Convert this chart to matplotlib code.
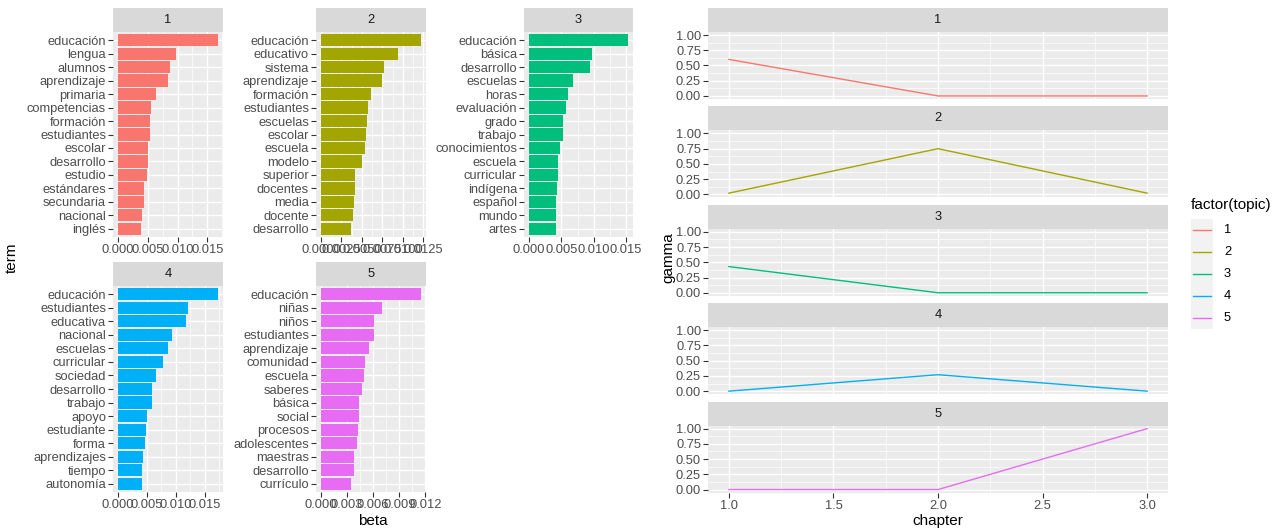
import matplotlib
matplotlib.use("Agg")
import matplotlib.pyplot as plt
from matplotlib.patches import Rectangle
from matplotlib.lines import Line2D
from matplotlib.ticker import FixedLocator

plt.rcParams['font.family'] = ['Liberation Sans', 'DejaVu Sans']

# ---- topic-term probabilities (beta) ----
topics = ["1", "2", "3", "4", "5"]
topic_colors = ["#F8766D", "#A3A500", "#00BF7D", "#00B0F6", "#E76BF3"]

terms1 = ["educación", "lengua", "alumnos", "aprendizaje", "primaria", "competencias",
          "formación", "estudiantes", "escolar", "desarrollo", "estudio", "estándares",
          "secundaria", "nacional", "inglés"]
beta1 = [0.0168, 0.0097, 0.0087, 0.0084, 0.0064, 0.0056, 0.0054, 0.0053, 0.0051,
         0.0051, 0.0048, 0.0044, 0.0044, 0.0041, 0.0039]

terms2 = ["educación", "educativo", "sistema", "aprendizaje", "formación", "estudiantes",
          "escuelas", "escolar", "escuela", "modelo", "superior", "docentes", "media",
          "docente", "desarrollo"]
beta2 = [0.0122, 0.0094, 0.0077, 0.0075, 0.0061, 0.0057, 0.0056, 0.0055, 0.0054,
         0.0050, 0.0041, 0.0041, 0.0040, 0.0039, 0.0036]

terms3 = ["educación", "básica", "desarrollo", "escuelas", "horas", "evaluación", "grado",
          "trabajo", "conocimientos", "escuela", "curricular", "indígena", "español",
          "mundo", "artes"]
beta3 = [0.0153, 0.0097, 0.0095, 0.0068, 0.0060, 0.0057, 0.0052, 0.0052, 0.0048,
         0.0045, 0.0045, 0.0043, 0.0042, 0.0042, 0.0042]

terms4 = ["educación", "estudiantes", "educativa", "nacional", "escuelas", "curricular",
          "sociedad", "desarrollo", "trabajo", "apoyo", "estudiante", "forma",
          "aprendizajes", "tiempo", "autonomía"]
beta4 = [0.0173, 0.0121, 0.0118, 0.0093, 0.0086, 0.0078, 0.0066, 0.0059, 0.0058,
         0.0051, 0.0049, 0.0047, 0.0044, 0.0042, 0.0042]

terms5 = ["educación", "niñas", "niños", "estudiantes", "aprendizaje", "comunidad",
          "escuela", "saberes", "básica", "social", "procesos", "adolescentes",
          "maestras", "desarrollo", "currículo"]
beta5 = [0.0115, 0.0070, 0.0061, 0.0061, 0.0055, 0.0051, 0.0049, 0.0047, 0.0044,
         0.0044, 0.0042, 0.0041, 0.0038, 0.0038, 0.0035]

beta_ticks1 = [0.000, 0.005, 0.010, 0.015]
beta_ticks2 = [0.0000, 0.0025, 0.0050, 0.0075, 0.0100, 0.0125]
beta_ticks3 = [0.000, 0.005, 0.010, 0.015]
beta_ticks4 = [0.000, 0.005, 0.010, 0.015]
beta_ticks5 = [0.000, 0.003, 0.006, 0.009, 0.012]

# ---- document-topic probabilities (gamma) ----
chapters = [1, 2, 3]
gamma1 = [0.60, 0.00, 0.00]
gamma2 = [0.02, 0.75, 0.02]
gamma3 = [0.43, 0.00, 0.00]
gamma4 = [0.00, 0.27, 0.00]
gamma5 = [0.00, 0.00, 1.00]

# ---- figure & ggplot-like styling ----
W, H, DPI = 1277, 529, 100
fig = plt.figure(figsize=(W / DPI, H / DPI), dpi=DPI)
fig.patch.set_facecolor("white")

PANEL_BG = "#EBEBEB"
STRIP_BG = "#D9D9D9"
TICK_TXT = "#4D4D4D"
TICK_CLR = "#333333"
FS = 9.3
TITLE_FS = 11


def px_axes(x0, y0, x1, y1):
    return fig.add_axes([x0 / W, 1 - y1 / H, (x1 - x0) / W, (y1 - y0) / H])


def strip(x0, y0, x1, y1, label):
    ax = px_axes(x0, y0, x1, y1)
    ax.set_facecolor(STRIP_BG)
    ax.set_xticks([])
    ax.set_yticks([])
    for s in ax.spines.values():
        s.set_visible(False)
    ax.text(0.5, 0.5, label, ha="center", va="center", fontsize=FS,
            color="#1A1A1A", transform=ax.transAxes)


def style_panel(ax):
    ax.set_facecolor(PANEL_BG)
    for s in ax.spines.values():
        s.set_visible(False)
    ax.set_axisbelow(True)
    ax.tick_params(axis="both", which="major", length=3.5, width=0.8,
                   color=TICK_CLR, labelcolor=TICK_TXT, labelsize=FS, pad=1.5)
    ax.tick_params(axis="both", which="minor", length=0)
    ax.grid(which="major", color="white", linewidth=1.0)
    ax.grid(which="minor", color="white", linewidth=0.5)


# ---- left: top terms per topic ----
bar_sets = [(terms1, beta1, beta_ticks1), (terms2, beta2, beta_ticks2),
            (terms3, beta3, beta_ticks3), (terms4, beta4, beta_ticks4),
            (terms5, beta5, beta_ticks5)]
col_x = [(113, 223), (316, 426), (524, 633)]
row_y = [(8, 32, 237), (262, 286, 492)]

for i, (terms, betas, ticks) in enumerate(bar_sets):
    r, c = divmod(i, 3)
    x0, x1 = col_x[c]
    sy0, sy1, py1 = row_y[r]
    strip(x0, sy0, x1, sy1, topics[i])
    ax = px_axes(x0, sy1, x1, py1)
    style_panel(ax)
    n = len(terms)
    ypos = list(range(n - 1, -1, -1))
    ax.barh(ypos, betas, height=0.9, color=topic_colors[i], zorder=2)
    ax.set_yticks(ypos)
    ax.set_yticklabels(terms)
    ax.set_ylim(-0.6, n - 0.4)
    mx = max(betas)
    ax.set_xlim(-0.05 * mx, 1.05 * mx)
    ax.xaxis.set_major_locator(FixedLocator(ticks))
    step = ticks[1] - ticks[0]
    minors = [t + step / 2 for t in ticks] + [ticks[0] - step / 2]
    ax.xaxis.set_minor_locator(FixedLocator(minors))
    ax.set_xticklabels([f"{t:.{len(str(step)) - 2}f}" for t in ticks])

fig.text(12 / W, 1 - 258 / H, "term", rotation=90, ha="center", va="center",
         fontsize=TITLE_FS, color="black")
fig.text(373 / W, 1 - 521 / H, "beta", ha="center", va="center",
         fontsize=TITLE_FS, color="black")

# ---- right: topic share per chapter ----
gammas = [gamma1, gamma2, gamma3, gamma4, gamma5]
rx0, rx1 = 708, 1168
pitch = 98.4
for i, g in enumerate(gammas):
    top = 8 + i * pitch
    strip(rx0, top, rx1, top + 24, topics[i])
    ax = px_axes(rx0, top + 24, rx1, top + 24 + 67)
    style_panel(ax)
    ax.plot(chapters, g, color=topic_colors[i], linewidth=1.0, zorder=3)
    ax.set_xlim(0.9, 3.1)
    ax.set_ylim(-0.05, 1.05)
    ax.xaxis.set_major_locator(FixedLocator([1.0, 1.5, 2.0, 2.5, 3.0]))
    ax.xaxis.set_minor_locator(FixedLocator([1.25, 1.75, 2.25, 2.75]))
    ax.yaxis.set_major_locator(FixedLocator([0, 0.25, 0.5, 0.75, 1.0]))
    ax.yaxis.set_minor_locator(FixedLocator([0.125, 0.375, 0.625, 0.875]))
    ax.set_yticklabels(["0.00", "0.25", "0.50", "0.75", "1.00"])
    if i < len(gammas) - 1:
        ax.tick_params(axis="x", which="major", length=0, labelbottom=False)
    else:
        ax.set_xticklabels(["1.0", "1.5", "2.0", "2.5", "3.0"])

fig.text(668 / W, 1 - 258 / H, "gamma", rotation=90, ha="center", va="center",
         fontsize=TITLE_FS, color="black")
fig.text(938 / W, 1 - 521 / H, "chapter", ha="center", va="center",
         fontsize=TITLE_FS, color="black")

# ---- legend ----
fig.text(1191 / W, 1 - 205 / H, "factor(topic)", ha="left", va="center",
         fontsize=TITLE_FS, color="black")
key_top = 219
for i, t in enumerate(topics):
    y0 = key_top + i * 22
    fig.patches.append(Rectangle((1191 / W, 1 - (y0 + 22) / H), 22 / W, 22 / H,
                                 transform=fig.transFigure, facecolor="#F2F2F2",
                                 edgecolor="none"))
    yc = 1 - (y0 + 11) / H
    fig.lines.append(Line2D([1193 / W, 1211 / W], [yc, yc], transform=fig.transFigure,
                            color=topic_colors[i], linewidth=1.0))
    fig.text(1224 / W, yc, t, ha="left", va="center", fontsize=FS, color="black")

fig.savefig("out.png", dpi=DPI)
